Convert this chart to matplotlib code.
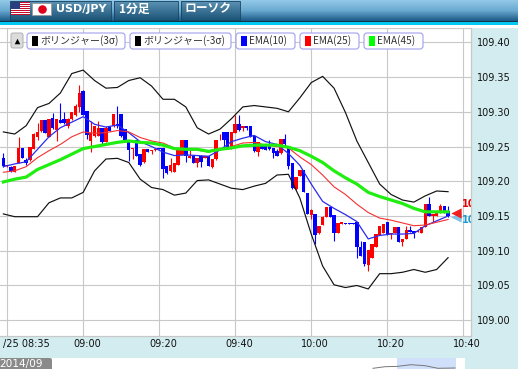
import numpy as np
import matplotlib
matplotlib.use("Agg")
import matplotlib.pyplot as plt
from matplotlib.patches import Rectangle, FancyBboxPatch

# --- prices are stored as thousandths above 109 ---
BASE = 109.0

bar_open = [234,222,221,214,227,248,230,231,247,264,
            272,288,264,291,274,288,290,279,289,295,
            307,330,301,258,265,265,277,257,278,279,
            282,297,275,260,246,260,239,228,246,243,
            245,248,248,222,215,214,224,238,259,234,
            236,227,236,234,237,220,232,259,271,271,
            247,270,282,276,280,279,265,242,252,251,
            253,248,244,240,261,248,227,189,207,216,
            183,151,153,126,137,148,163,151,126,138,
            140,140,140,141,105,112,79,89,106,123,
            126,141,124,126,134,112,117,130,129,127,
            126,134,167,150,150,155,165,157]
bar_high = [240,223,222,222,263,248,234,249,270,284,
            288,288,290,298,290,313,299,291,300,311,
            339,332,301,287,280,287,277,279,278,297,
            308,297,275,260,248,260,239,246,246,245,
            247,248,248,222,233,227,246,259,259,246,
            236,234,236,237,237,232,260,268,271,271,
            271,296,296,280,280,279,265,256,252,251,
            260,248,246,261,268,251,227,206,216,216,
            183,160,153,136,150,163,163,151,140,141,
            140,140,140,141,114,112,101,110,124,136,
            138,141,126,134,134,117,136,136,129,130,
            134,167,177,153,157,167,165,165]
bar_low = [220,221,214,214,226,234,223,229,247,259,
           271,270,263,275,258,284,283,277,288,294,
           300,296,261,242,264,265,254,256,272,278,
           277,264,260,229,232,236,222,227,242,239,
           243,246,204,211,214,214,223,238,228,234,
           226,221,221,233,222,219,231,259,248,247,
           247,270,272,272,274,263,242,237,247,245,
           245,233,236,239,251,218,189,188,207,184,
           153,146,110,124,137,148,149,114,126,138,
           139,139,139,90,92,78,71,89,106,123,
           126,123,117,126,113,107,117,127,118,127,
           125,134,150,141,150,155,155,149]
bar_close = [222,223,215,222,248,234,227,249,268,271,
             288,270,290,276,290,284,284,290,300,309,
             327,296,266,270,280,276,256,277,272,297,
             279,265,260,245,248,237,224,246,242,245,
             246,246,217,212,224,227,246,259,237,237,
             227,234,228,236,222,232,260,260,260,247,
             271,282,274,279,276,264,244,256,247,245,
             246,241,237,261,253,222,191,206,216,184,
             153,159,122,136,149,163,149,126,140,141,
             139,139,139,105,93,81,101,110,124,136,
             138,123,126,134,113,117,130,127,126,129,
             134,167,150,153,157,165,155,150]

# indicators read every third bar
line_idx = list(range(0, 118, 3))
band_up = [271,268,280,306,312,327,355,360,345,334,335,345,349,337,318,318,307,277,268,275,
           290,307,309,307,305,300,320,342,351,334,299,258,227,196,181,173,170,179,186,185]
band_dn = [153,149,149,149,169,176,176,184,215,232,233,227,203,191,188,180,183,201,202,196,
           190,188,193,197,209,210,176,124,78,51,47,50,45,67,67,69,73,69,73,90]
ema10 = [221,225,228,246,264,277,285,293,282,278,281,270,257,250,242,237,238,237,236,245,
         257,262,266,257,253,240,223,196,171,161,152,142,117,122,124,124,125,136,143,150]
ema25 = [213,215,221,234,244,253,264,271,269,270,273,271,263,258,255,248,246,245,242,245,
         250,255,256,252,250,248,235,224,209,192,181,167,155,147,144,140,136,137,141,145]
ema45 = [199,203,206,217,224,231,239,247,250,253,256,258,256,255,252,247,246,246,243,246,
         248,251,252,252,252,249,244,236,227,215,205,196,184,178,173,168,161,156,156,156]

y_ticks = [109.00, 109.05, 109.10, 109.15, 109.20, 109.25, 109.30, 109.35, 109.40]
x_ticks = [1, 21, 41, 61, 81, 101, 121]
x_labels = ["/25 08:35", "09:00", "09:20", "09:40", "10:00", "10:20", "10:40"]

last_up = 109.167
last_dn = 109.144
chips = [("ボリンジャー(3σ)", "black", 27, 125), ("ボリンジャー(-3σ)", "black", 130, 231),
         ("EMA(10)", "#0000ff", 236, 295), ("EMA(25)", "#ff0000", 300, 359), ("EMA(45)", "#00ff00", 364, 423)]
mini_pos = [373, 385, 397, 411, 425, 438, 455]
mini_val = [0.7, 2.3, 2.6, 4.3, 3.3, 0.7, 1.0]

JP = ['Noto Sans CJK JP', 'DejaVu Sans']
W, H = 518, 369
GRID = '#c8c8c8'

fig = plt.figure(figsize=(W / 100, H / 100), dpi=100, facecolor='#d2ecef')

# --- main chart ---
ax = fig.add_axes([0, (H - 335.5) / H, 470.5 / W, 307.5 / H], zorder=1)
ax.set_xlim(-0.877, 122.9)
ax.set_ylim(108.978, 109.4206)
ax.set_yticks(y_ticks)
ax.set_yticklabels([f"{v:.2f}" for v in y_ticks], fontsize=7, color='#111111')
ax.yaxis.tick_right()
ax.tick_params(axis='y', length=0, pad=4.6)
ax.set_xticks(x_ticks)
ax.set_xticklabels([])
ax.tick_params(axis='x', length=0)
ax.grid(True, color=GRID, linewidth=0.8)
ax.set_axisbelow(True)
for s in ['top', 'right', 'bottom']:
    ax.spines[s].set_color(GRID)
    ax.spines[s].set_linewidth(0.9)
ax.spines['left'].set_visible(False)

for t, lab in zip(x_ticks, x_labels):
    if t == x_ticks[0]:
        ax.annotate(lab, (t, 0), xycoords=ax.get_xaxis_transform(), xytext=(43, -8.5),
                    textcoords='offset pixels', ha='right', va='center', fontsize=7, color='#111111',
                    annotation_clip=False)
    else:
        ax.annotate(lab, (t, 0), xycoords=ax.get_xaxis_transform(), xytext=(4, -8.5),
                    textcoords='offset pixels', ha='center', va='center', fontsize=7, color='#111111',
                    annotation_clip=False)

# candles
o = BASE + np.array(bar_open) / 1000
h = BASE + np.array(bar_high) / 1000
l = BASE + np.array(bar_low) / 1000
c = BASE + np.array(bar_close) / 1000
idx = np.arange(len(o))
cols = ['#ff0000' if cc >= oo else '#0000ff' for oo, cc in zip(o, c)]
ax.vlines(idx, l, h, colors=cols, linewidth=0.8, zorder=2)
ax.bar(idx, np.abs(c - o), bottom=np.minimum(o, c), width=0.9, color=cols, linewidth=0, zorder=3)

# indicators
ax.plot(line_idx, BASE + np.array(band_up) / 1000, color='#111111', linewidth=0.85, zorder=4)
ax.plot(line_idx, BASE + np.array(band_dn) / 1000, color='#111111', linewidth=0.85, zorder=4)
ax.plot(line_idx, BASE + np.array(ema10) / 1000, color='#2a2af0', linewidth=0.9, zorder=4)
ax.plot(line_idx, BASE + np.array(ema25) / 1000, color='#f53030', linewidth=0.8, zorder=4)
ax.plot(line_idx, BASE + np.array(ema45) / 1000, color='#1fee10', linewidth=2.3, zorder=5)

# last price tags, only the start shows before the plot edge
ax.scatter([119.1], [109.148], marker='<', s=55, color='#7fc4e8', linewidth=0, zorder=6)
ax.scatter([119.1], [109.155], marker='<', s=55, color='#f02020', linewidth=0, zorder=7)
ax.text(120.7, last_up, "10", color='#e00000', fontsize=7, fontweight='bold',
        va='center', ha='left', clip_on=True, zorder=7)
ax.text(120.7, last_dn, "10", color='#1a9bd6', fontsize=7, fontweight='bold',
        va='center', ha='left', clip_on=True, zorder=7)

# --- header, legend chips and overview strip, in pixel coordinates ---
ov = fig.add_axes([0, 0, 1, 1], zorder=2)
ov.patch.set_alpha(0)
ov.axis('off')

grad = np.linspace(0, 1, 64).reshape(-1, 1)
ov.imshow(grad, extent=(0, W, 21, 0), aspect='auto', cmap=matplotlib.colors.LinearSegmentedColormap.from_list(
    'hdr', ['#93c9e8', '#6aa9d0', '#1b5a86']), zorder=1)
for x0, x1 in [(10, 111), (114, 178), (181, 240)]:
    ov.imshow(grad, extent=(x0, x1, 20, 1), aspect='auto', cmap=matplotlib.colors.LinearSegmentedColormap.from_list(
        'tab', ['#5d93b4', '#1c5478']), zorder=2)
    ov.add_patch(Rectangle((x0, 1), x1 - x0, 19, fill=False, edgecolor='#17435f', linewidth=0.6, zorder=3))
ov.add_patch(Rectangle((0, 21), W, 1, color='#123348', linewidth=0))
ov.add_patch(Rectangle((0, 22), W, 3, color='#00c8f2', linewidth=0))
ov.add_patch(Rectangle((0, 25), 470.5, 3, color='white', linewidth=0))
ov.add_patch(Rectangle((470.5, 25), W - 470.5, 3, color='white', linewidth=0))

# flags
ov.add_patch(Rectangle((11, 2), 19, 13, color='white', linewidth=0, zorder=4))
for k in range(0, 13, 2):
    ov.add_patch(Rectangle((11, 2 + k), 19, 1, color='#c8102e', linewidth=0, zorder=4))
ov.add_patch(Rectangle((11, 2), 9, 7, color='#2a3f80', linewidth=0, zorder=4))
ov.add_patch(Rectangle((32, 3), 19, 12, facecolor='white', edgecolor='#999999', linewidth=0.6, zorder=4))
ov.scatter([41.5], [9], s=38, color='#e0001a', linewidth=0, zorder=5)

ov.text(56, 9, "USD/JPY", color='white', fontsize=8, fontweight='bold', va='center', zorder=6)
ov.text(119, 9, "1分足", color='white', fontsize=8.5, fontweight='bold', va='center', family=JP, zorder=6)
ov.text(185, 9, "ローソク", color='white', fontsize=8.5, fontweight='bold', va='center', family=JP, zorder=6)

# legend
ov.add_patch(FancyBboxPatch((11, 33), 12, 15, boxstyle='round,pad=0,rounding_size=2',
                            facecolor='#dcdcdc', edgecolor='#b0b0b0', linewidth=0.7, zorder=6))
ov.scatter([17], [41], marker='^', s=16, color='black', linewidth=0, zorder=7)
for name, col, x0, x1 in chips:
    ov.add_patch(FancyBboxPatch((x0, 33), x1 - x0, 16, boxstyle='round,pad=0,rounding_size=3',
                                facecolor='white', edgecolor='#a0a0ee', linewidth=0.8, zorder=6))
    ov.add_patch(Rectangle((x0 + 5, 36), 5.5, 10, color=col, linewidth=0, zorder=7))
    ov.text(x0 + 13.5, 40.5, name, fontsize=7.2, color='#333333', va='center', family=JP, zorder=7)

# overview strip
ov.add_patch(Rectangle((0, 358), 465, 11, color='white', linewidth=0, zorder=6))
ov.add_patch(Rectangle((397, 358), 59, 11, color='#d0e0fb', linewidth=0, zorder=7))
ov.plot(mini_pos, [369 - v for v in mini_val], color='#777777', linewidth=0.7, zorder=8)
ov.add_patch(FancyBboxPatch((-3, 358), 55, 14, boxstyle='round,pad=0,rounding_size=2',
                            facecolor='#8a8a8a', edgecolor='none', zorder=8))
ov.text(-0.5, 364, "2014/09", color='white', fontsize=7.6, va='center', zorder=9)

ov.set_xlim(0, W)
ov.set_ylim(H, 0)

fig.savefig('out.png', dpi=100, facecolor=fig.get_facecolor())
